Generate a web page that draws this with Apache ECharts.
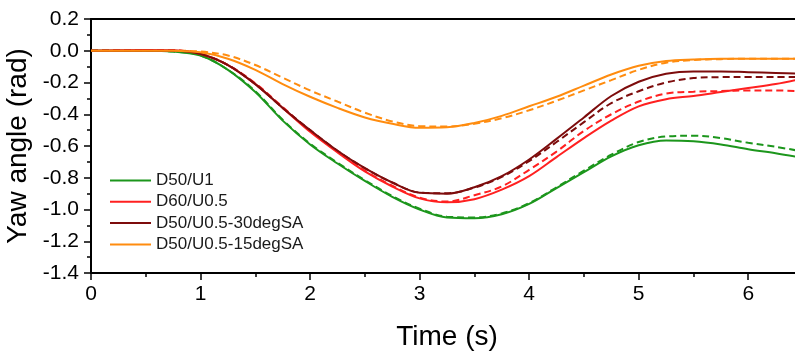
<!DOCTYPE html>
<html>
<head>
<meta charset="utf-8">
<script src="https://cdn.jsdelivr.net/npm/echarts@6/dist/echarts.min.js"></script>
<style>html,body{margin:0;padding:0;background:#fff}#chart{width:795px;height:352px}</style>
</head>
<body>
<div id="chart"></div>
<script>
const time = [0,0.25,0.5,0.75,1.0,1.25,1.5,1.75,2.0,2.25,2.5,2.75,3.0,3.25,3.5,3.75,4.0,4.25,4.5,4.75,5.0,5.25,5.5,5.75,6.0,6.25,6.5];

const seriesNames = ['D50/U1','D60/U0.5','D50/U0.5-30degSA','D50/U0.5-15degSA'];

const d50u1Solid  = [0,0,0,-0.005,-0.03,-0.12,-0.26,-0.44,-0.59,-0.71,-0.82,-0.92,-1.0,-1.05,-1.055,-1.03,-0.965,-0.865,-0.765,-0.665,-0.595,-0.565,-0.57,-0.59,-0.62,-0.645,-0.675];
const d50u1Dash   = [0,0,0,-0.005,-0.03,-0.12,-0.255,-0.435,-0.585,-0.705,-0.815,-0.915,-0.995,-1.045,-1.05,-1.025,-0.96,-0.86,-0.755,-0.655,-0.575,-0.54,-0.535,-0.55,-0.58,-0.605,-0.635];
const d60u05Solid = [0,0.003,0.005,0.003,-0.02,-0.09,-0.21,-0.36,-0.51,-0.64,-0.76,-0.855,-0.93,-0.955,-0.935,-0.875,-0.79,-0.67,-0.55,-0.44,-0.35,-0.305,-0.285,-0.26,-0.235,-0.21,-0.175];
const d60u05Dash  = [0,0.003,0.005,0.003,-0.02,-0.09,-0.205,-0.355,-0.505,-0.635,-0.755,-0.85,-0.925,-0.95,-0.91,-0.855,-0.75,-0.635,-0.505,-0.4,-0.32,-0.27,-0.258,-0.254,-0.25,-0.25,-0.255];
const d50sa30Solid= [0,0,0,0,-0.02,-0.09,-0.21,-0.36,-0.5,-0.63,-0.74,-0.83,-0.895,-0.9,-0.86,-0.79,-0.685,-0.555,-0.42,-0.285,-0.195,-0.145,-0.13,-0.13,-0.135,-0.14,-0.145];
const d50sa30Dash = [0,0,0,0,-0.02,-0.09,-0.21,-0.36,-0.5,-0.63,-0.74,-0.83,-0.893,-0.898,-0.862,-0.795,-0.695,-0.575,-0.45,-0.33,-0.255,-0.2,-0.172,-0.166,-0.165,-0.165,-0.166];
const d50sa15Solid= [0,0,0,0,-0.01,-0.05,-0.12,-0.21,-0.29,-0.36,-0.42,-0.46,-0.485,-0.482,-0.455,-0.41,-0.35,-0.29,-0.22,-0.15,-0.095,-0.065,-0.055,-0.05,-0.05,-0.05,-0.05];
const d50sa15Dash = [0,0,0,0,-0.005,-0.03,-0.09,-0.17,-0.25,-0.32,-0.39,-0.445,-0.475,-0.477,-0.46,-0.425,-0.375,-0.315,-0.25,-0.185,-0.12,-0.075,-0.058,-0.053,-0.05,-0.05,-0.05];

const yTicks = [0.2,0.0,-0.2,-0.4,-0.6,-0.8,-1.0,-1.2,-1.4];
const xTicks = [0,1,2,3,4,5,6];

const colors = ['#1c961c','#ff2020','#7d0c0c','#ff8c0f'];
const solids = [d50u1Solid,d60u05Solid,d50sa30Solid,d50sa15Solid];
const dashes = [d50u1Dash,d60u05Dash,d50sa30Dash,d50sa15Dash];

function pairs(arr){ return arr.map((v,i)=>[time[i],v]); }

const series = [];
for (let i=0;i<4;i++){
  series.push({
    name: seriesNames[i]+' (dashed)', type:'line', data: pairs(dashes[i]),
    symbol:'none', showSymbol:false, smooth:0.35, lineStyle:{color:colors[i],width:2,type:[7,4]},
    itemStyle:{color:colors[i]}, silent:true, z:2
  });
}
for (let i=0;i<4;i++){
  series.push({
    name: seriesNames[i], type:'line', data: pairs(solids[i]),
    symbol:'none', showSymbol:false, smooth:0.35, lineStyle:{color:colors[i],width:2},
    itemStyle:{color:colors[i]}, z:3
  });
}

const font = 'Arial, "Liberation Sans", sans-serif';
const tickStyle = {show:true, inside:false, length:7, lineStyle:{color:'#000', width:1.5}};
const minorStyle = {show:true, splitNumber:2, length:4, lineStyle:{color:'#000', width:1.5}};
const lineOnly = {show:true, onZero:false, lineStyle:{color:'#000', width:2}};

const chart = echarts.init(document.getElementById('chart'), null, {renderer:'canvas'});
chart.setOption({
  animation:false,
  backgroundColor:'#fff',
  grid:{left:91, top:19, right:-8, bottom:79, containLabel:false, outerBoundsMode:'none'},
  legend:{
    data: seriesNames, orient:'vertical', left:110, top:172, padding:0,
    icon:'rect', itemWidth:41, itemHeight:2, itemGap:4.3,
    textStyle:{fontFamily:font, fontSize:17, color:'#1a1a1a'}
  },
  xAxis:[{
    type:'value', position:'bottom', min:0, max:6.5, interval:1,
    name:'Time (s)', nameLocation:'middle', nameGap:50,
    nameTextStyle:{fontFamily:font, fontSize:28, color:'#000'},
    axisLine:lineOnly,
    axisTick:tickStyle, minorTick:minorStyle,
    axisLabel:{fontFamily:font, fontSize:21, color:'#000', margin:11, showMaxLabel:false},
    splitLine:{show:false}
  },{
    type:'value', position:'top', min:0, max:6.5, interval:1,
    axisLine:lineOnly, axisTick:{show:false}, axisLabel:{show:false}, splitLine:{show:false}
  }],
  yAxis:{
    type:'value', position:'left', min:-1.4, max:0.2, interval:0.2,
    name:'Yaw angle (rad)', nameLocation:'middle', nameGap:46,
    nameTextStyle:{fontFamily:font, fontSize:28, color:'#000'},
    axisLine:lineOnly,
    axisTick:tickStyle, minorTick:minorStyle,
    axisLabel:{fontFamily:font, fontSize:21, color:'#000', margin:12,
      formatter:v=>{ const r=Math.round(v*10)/10; return yTicks.some(t=>Math.abs(t-r)<1e-9) ? r.toFixed(1) : ''; }},
    splitLine:{show:false}
  },
  series: series
});
</script>
</body>
</html>
